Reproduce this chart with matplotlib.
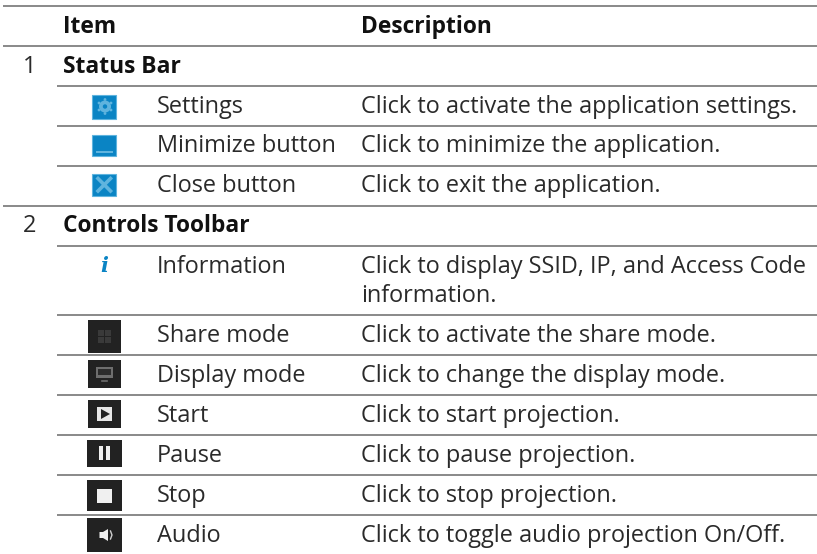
import matplotlib
matplotlib.use('Agg')
import matplotlib.pyplot as plt
from matplotlib.patches import Rectangle, Polygon, Circle

plt.rcParams['font.family'] = ['Open Sans', 'DejaVu Sans']

headers = ['Item', 'Description']
sections = ['Status Bar', 'Controls Toolbar']
section_numbers = ['1', '2']
status_items = ['Settings', 'Minimize button', 'Close button']
status_desc = ['Click to activate the application settings.',
               'Click to minimize the application.',
               'Click to exit the application.']
control_items = ['Information', 'Share mode', 'Display mode', 'Start', 'Pause', 'Stop', 'Audio']
control_desc = ['Click to display SSID, IP, and Access Code',
                'Click to activate the share mode.',
                'Click to change the display mode.',
                'Click to start projection.',
                'Click to pause projection.',
                'Click to stop projection.',
                'Click to toggle audio projection On/Off.']
control_desc_extra = 'information.'

FS = 16.9
FS_BOLD = 16.4
TXT = '#2a2a2a'
RULE = '#808080'
BLUE = '#0a84c4'
LIGHT = '#5fb4de'
DARK = '#222222'

fig = plt.figure(figsize=(8.17, 5.54), dpi=100)
ax = fig.add_axes([0, 0, 1, 1])
ax.set_xlim(0, 817)
ax.set_ylim(554, 0)
ax.axis('off')


def rule(y, x0=57):
    ax.plot([x0, 817], [y, y], color=RULE, lw=1.3, solid_capstyle='butt')


def label(x, y, s, bold=False):
    ax.text(x, y, s, fontsize=FS_BOLD if bold else FS, color='#111111' if bold else TXT,
            va='baseline', ha='left', fontweight='bold' if bold else 'normal')


def box(x0, y0, x1, y1, color, ec='none', z=2):
    ax.add_patch(Rectangle((x0, y0), x1 - x0, y1 - y0, fc=color, ec=ec, lw=0.8, zorder=z))


# rules
for y in [5.5, 45.5, 205.5]:
    rule(y, 3)
for y in [86, 126, 165.5, 245.5, 315, 354.7, 395, 434.7, 475, 515]:
    rule(y)

# header
label(63, 33, headers[0], True)
label(361, 33, headers[1], True)

# section heads
ax.text(30, 72.7, section_numbers[0], fontsize=FS, color=TXT, va='baseline', ha='center')
label(63, 72.7, sections[0], True)
ax.text(30, 232, section_numbers[1], fontsize=FS, color=TXT, va='baseline', ha='center')
label(63, 232, sections[1], True)

# rows
status_y = [113, 152.5, 192.5]
for y, a, b in zip(status_y, status_items, status_desc):
    label(157, y, a)
    label(361, y, b)
control_y = [272.7, 341.7, 381.5, 421.7, 461.7, 501.7, 541.7]
for y, a, b in zip(control_y, control_items, control_desc):
    label(157, y, a)
    label(361, y, b)
label(361, 302, control_desc_extra)

# settings icon
box(92.5, 94.5, 116, 119, BLUE, LIGHT)
ax.add_patch(Circle((105, 106.5), 6, fc=LIGHT, ec='none', zorder=3))
for dx, dy in [(0, -7), (0, 7), (-6, -3.5), (6, -3.5), (-6, 3.5), (6, 3.5)]:
    ax.add_patch(Circle((105 + dx, 106.5 + dy), 1.4, fc=LIGHT, ec='none', zorder=3))
ax.add_patch(Circle((105, 106.5), 2.2, fc=BLUE, ec='none', zorder=4))

# minimize icon
box(92.5, 134.5, 116, 156, BLUE, LIGHT)
box(96, 150.5, 113, 152.5, LIGHT, z=3)

# close icon
box(92.5, 173.5, 116, 196, BLUE, LIGHT)
ax.plot([98, 110.5], [178.5, 191], color=LIGHT, lw=2.6, zorder=3)
ax.plot([98, 110.5], [191, 178.5], color=LIGHT, lw=2.6, zorder=3)

# information icon
ax.text(104.5, 266, 'i', fontsize=15, color=BLUE, family='DejaVu Serif', fontweight='bold',
        fontstyle='italic', ha='center', va='center')

# share icon
box(88, 320, 121, 353, DARK)
for x0, y0 in [(98, 330), (105, 330), (98, 337), (105, 337)]:
    box(x0, y0, x0 + 6, y0 + 6, '#3a3a3a', z=3)

# display icon
box(88, 360, 121, 388, DARK)
box(96, 366.5, 113, 378, '#6e6e6e', z=3)
box(98, 368.5, 111, 375, '#2c2c2c', z=4)
ax.plot([102, 107], [380.5, 380.5], color='#6e6e6e', lw=1.2, zorder=3)

# start icon
box(88, 400, 121, 428, DARK)
box(97, 407, 112, 421, '#e8e8e8', z=3)
ax.add_patch(Polygon([(101, 409), (101, 419), (110, 414)], fc=DARK, zorder=4))

# pause icon
box(87, 440, 122, 467, DARK)
box(99.5, 446, 103.5, 460, '#f0f0f0', z=3)
box(106.5, 446, 110.5, 460, '#f0f0f0', z=3)

# stop icon
box(87, 480, 122, 511, DARK)
box(97.5, 489, 112, 503, '#f0f0f0', z=3)

# audio icon
box(87, 518, 122, 552, DARK)
ax.add_patch(Polygon([(99.5, 532), (103, 532), (108, 529), (108, 541), (103, 538), (99.5, 538)],
                     fc='#f0f0f0', zorder=3))
ax.plot([110.5, 112, 110.5], [531, 535, 539], color='#d0d0d0', lw=1, zorder=3)

fig.savefig('out.png', dpi=100)
